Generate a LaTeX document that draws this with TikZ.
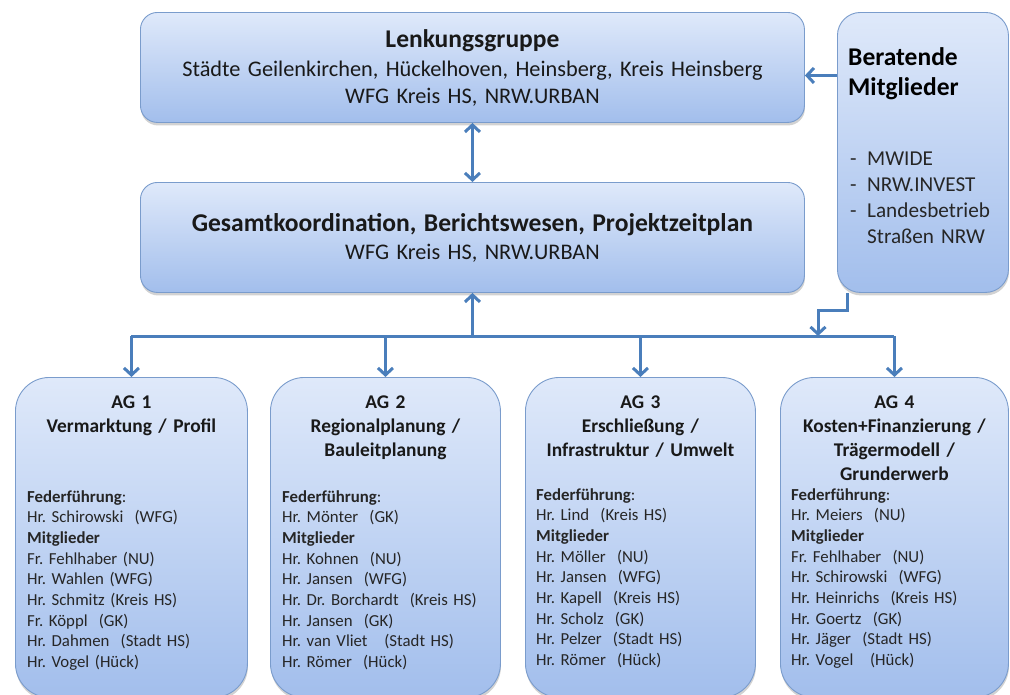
\documentclass[tikz,border=0pt]{standalone}
\usepackage{fontspec}
\setmainfont{Carlito}
\frenchspacing
\usetikzlibrary{arrows.meta,shadows}

\definecolor{boxtop}{RGB}{223,233,250}
\definecolor{boxbottom}{RGB}{162,190,236}
\definecolor{boxline}{RGB}{122,156,204}
\definecolor{linkblue}{RGB}{74,126,187}

\tikzset{
  panel/.style={draw=boxline, line width=0.9pt, rounded corners=17pt, top color=boxtop, bottom color=boxbottom,
    drop shadow={shadow xshift=0.5pt, shadow yshift=-3pt, opacity=0.25, fill=black!70}, inner sep=0pt},
  agpanel/.style={panel, rounded corners=34pt},
  link/.style={draw=linkblue, line width=3pt, -{Straight Barb[length=7pt,width=15pt]}},
  twoway/.style={link, {Straight Barb[length=7pt,width=15pt]}-{Straight Barb[length=7pt,width=15pt]}},
  wire/.style={draw=linkblue, line width=3pt},
  boxtext/.style={inner sep=0pt, align=center, anchor=base, text=black!90},
  agtitle/.style={boxtext, text width=228pt, font=\fontsize{19.4}{24}\selectfont\bfseries},
  names/.style={inner sep=0pt, align=left, anchor=base west, text width=220pt, text=black!85,
    font=\fontsize{16.8}{20.7}\selectfont},
}

\begin{document}
\begin{tikzpicture}[x=1pt, y=-1pt]
	\useasboundingbox (0,0) rectangle (1010,694);

	% boxes
	\node[panel, minimum width=664pt, minimum height=110pt, anchor=north west] (lenk) at (140,12) {};
	\node[panel, minimum width=664pt, minimum height=110pt, anchor=north west] (gesamt) at (140,182) {};
	\node[panel, rounded corners=23pt, minimum width=171pt, minimum height=280pt, anchor=north west] (berat) at (837,12) {};
	\node[agpanel, minimum width=232pt, minimum height=320pt, anchor=north west] (ag1) at (15,377) {};
	\node[agpanel, minimum width=230pt, minimum height=320pt, anchor=north west] (ag2) at (270,377) {};
	\node[agpanel, minimum width=230pt, minimum height=320pt, anchor=north west] (ag3) at (525,377) {};
	\node[agpanel, minimum width=228pt, minimum height=320pt, anchor=north west] (ag4) at (780,377) {};

	% texts
	\node[boxtext, text width=650pt, font=\fontsize{22.3}{27}\selectfont] (lenk-text) at (lenk.center |- 0,47)
		{{\fontsize{25.5}{27}\selectfont\bfseries Lenkungsgruppe}\\[2pt]
		Städte Geilenkirchen, Hückelhoven, Heinsberg, Kreis Heinsberg\\
		WFG Kreis HS, NRW.URBAN};
	\node[boxtext, text width=650pt, font=\fontsize{22.3}{28}\selectfont] (gesamt-text) at (gesamt.center |- 0,231)
		{{\fontsize{25.6}{28}\selectfont\bfseries Gesamtkoordination, Berichtswesen, Projektzeitplan}\\
		WFG Kreis HS, NRW.URBAN};
	\node[inner sep=0pt, align=left, anchor=base west, text width=160pt, font=\fontsize{25.5}{30}\selectfont\bfseries] (berat-title) at (848,65)
		{Beratende\\ Mitglieder};
	\node[inner sep=0pt, align=left, anchor=base west, text width=160pt, text=black!85, font=\fontsize{21.2}{26}\selectfont] (berat-list) at (850,165)
		{\makebox[17pt][l]{-}MWIDE\\ \makebox[17pt][l]{-}NRW.INVEST\\ \makebox[17pt][l]{-}Landesbetrieb\\ \makebox[17pt][l]{}Straßen NRW};

	\node[agtitle] (ag1-title) at (ag1.center |- 0,408) {AG 1\\ Vermarktung / Profil};
	\node[agtitle] (ag2-title) at (ag2.center |- 0,408) {AG 2\\ Regionalplanung /\\ Bauleitplanung};
	\node[agtitle] (ag3-title) at (ag3.center |- 0,408) {AG 3\\ Erschließung /\\ Infrastruktur / Umwelt};
	\node[agtitle] (ag4-title) at (ag4.center |- 0,408) {AG 4\\ Kosten+Finanzierung /\\ Trägermodell /\\ Grunderwerb};

	\node[names] (ag1-names) at (27,502) {\textbf{Federführung}:\\ Hr. Schirowski~ (WFG)\\ \textbf{Mitglieder}\\
		Fr. Fehlhaber (NU)\\ Hr. Wahlen (WFG)\\ Hr. Schmitz (Kreis HS)\\ Fr. Köppl~ (GK)\\ Hr. Dahmen~ (Stadt HS)\\ Hr. Vogel (Hück)};
	\node[names] (ag2-names) at (282,502) {\textbf{Federführung}:\\ Hr. Mönter~ (GK)\\ \textbf{Mitglieder}\\
		Hr. Kohnen~ (NU)\\ Hr. Jansen~ (WFG)\\ Hr. Dr. Borchardt~ (Kreis HS)\\ Hr. Jansen~ (GK)\\ Hr. van Vliet~~ (Stadt HS)\\ Hr. Römer~ (Hück)};
	\node[names] (ag3-names) at (536,500) {\textbf{Federführung}:\\ Hr. Lind~ (Kreis HS)\\ \textbf{Mitglieder}\\
		Hr. Möller~ (NU)\\ Hr. Jansen~ (WFG)\\ Hr. Kapell~ (Kreis HS)\\ Hr. Scholz~ (GK)\\ Hr. Pelzer~ (Stadt HS)\\ Hr. Römer~ (Hück)};
	\node[names] (ag4-names) at (791,500) {\textbf{Federführung}:\\ Hr. Meiers~ (NU)\\ \textbf{Mitglieder}\\
		Fr. Fehlhaber~ (NU)\\ Hr. Schirowski~ (WFG)\\ Hr. Heinrichs~ (Kreis HS)\\ Hr. Goertz~ (GK)\\ Hr. Jäger~ (Stadt HS)\\ Hr. Vogel~~ (Hück)};

	% connectors
	\coordinate (lenk-in) at ([yshift=-8pt]lenk.east);
	\coordinate (bus) at (gesamt.south |- 0,336);
	\coordinate (bus-in) at (818,336);
	\draw[twoway] (lenk.south) -- (gesamt.north);
	\draw[link] (berat.west |- lenk-in) -- (lenk-in);
	\draw[link] (bus) -- (gesamt.south);
	\draw[wire] (ag1.north |- bus) -- (ag4.north |- bus);
	\foreach \ag in {ag1,ag2,ag3,ag4}
		\draw[link] (\ag.north |- bus) -- (\ag.north);
	\draw[link] ([xshift=-75pt]berat.south) -- ++(0,18) -| (bus-in);
\end{tikzpicture}
\end{document}
